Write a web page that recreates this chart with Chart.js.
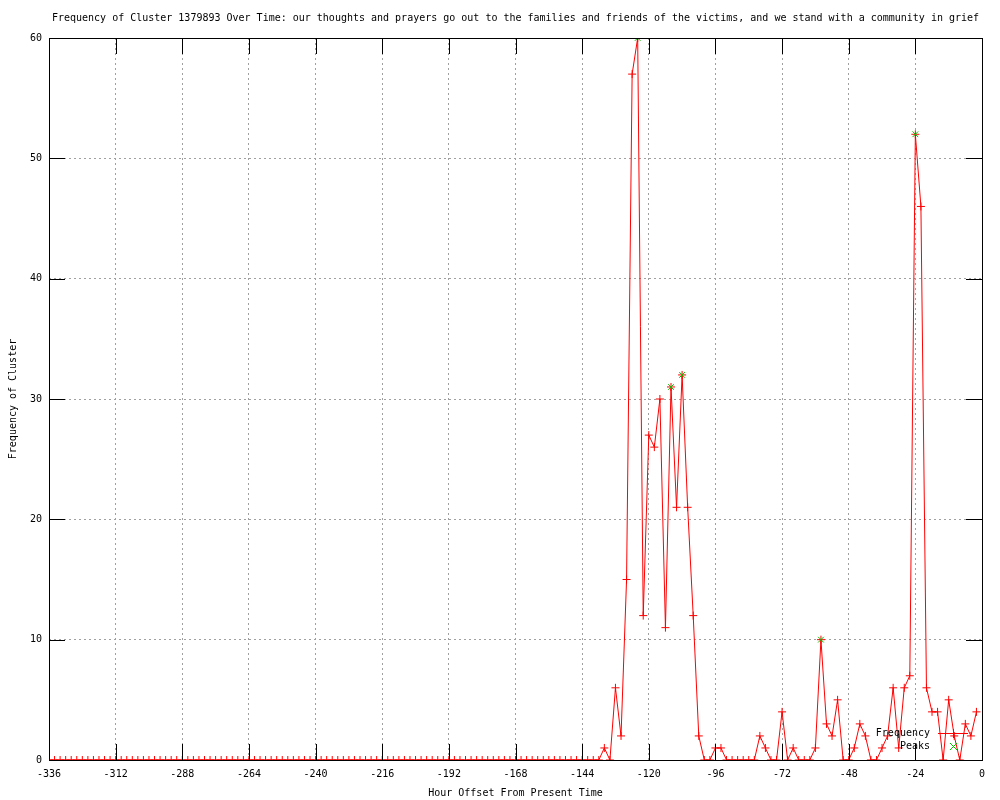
<!DOCTYPE html>
<html>
<head>
<meta charset="utf-8">
<script src="https://cdn.jsdelivr.net/npm/chart.js@4/dist/chart.umd.min.js"></script>
<style>
  html, body { margin: 0; padding: 0; background: #fff; }
  #wrap { width: 1000px; height: 800px; }
</style>
</head>
<body>
<div id="wrap"><canvas id="myChart" width="1000" height="800"></canvas></div>
<script>
var chartTitle = 'Frequency of Cluster 1379893 Over Time: our thoughts and prayers go out to the families and friends of the victims, and we stand with a community in grief';
var xTitle = 'Hour Offset From Present Time';
var yTitle = 'Frequency of Cluster';

// hour offsets, 2 hours apart
var hours = [
    -336, -334, -332, -330, -328, -326, -324, -322, -320, -318, -316, -314,
    -312, -310, -308, -306, -304, -302, -300, -298, -296, -294, -292, -290,
    -288, -286, -284, -282, -280, -278, -276, -274, -272, -270, -268, -266,
    -264, -262, -260, -258, -256, -254, -252, -250, -248, -246, -244, -242,
    -240, -238, -236, -234, -232, -230, -228, -226, -224, -222, -220, -218,
    -216, -214, -212, -210, -208, -206, -204, -202, -200, -198, -196, -194,
    -192, -190, -188, -186, -184, -182, -180, -178, -176, -174, -172, -170,
    -168, -166, -164, -162, -160, -158, -156, -154, -152, -150, -148, -146,
    -144, -142, -140, -138, -136, -134, -132, -130, -128, -126, -124, -122,
    -120, -118, -116, -114, -112, -110, -108, -106, -104, -102, -100, -98,
    -96, -94, -92, -90, -88, -86, -84, -82, -80, -78, -76, -74,
    -72, -70, -68, -66, -64, -62, -60, -58, -56, -54, -52, -50,
    -48, -46, -44, -42, -40, -38, -36, -34, -32, -30, -28, -26,
    -24, -22, -20, -18, -16, -14, -12, -10, -8, -6, -4, -2
];

var counts = [
    0, 0, 0, 0, 0, 0, 0, 0, 0, 0, 0, 0,
    0, 0, 0, 0, 0, 0, 0, 0, 0, 0, 0, 0,
    0, 0, 0, 0, 0, 0, 0, 0, 0, 0, 0, 0,
    0, 0, 0, 0, 0, 0, 0, 0, 0, 0, 0, 0,
    0, 0, 0, 0, 0, 0, 0, 0, 0, 0, 0, 0,
    0, 0, 0, 0, 0, 0, 0, 0, 0, 0, 0, 0,
    0, 0, 0, 0, 0, 0, 0, 0, 0, 0, 0, 0,
    0, 0, 0, 0, 0, 0, 0, 0, 0, 0, 0, 0,
    0, 0, 0, 0, 1, 0, 6, 2, 15, 57, 60, 12,
    27, 26, 30, 11, 31, 21, 32, 21, 12, 2, 0, 0,
    1, 1, 0, 0, 0, 0, 0, 0, 2, 1, 0, 0,
    4, 0, 1, 0, 0, 0, 1, 10, 3, 2, 5, 0,
    0, 1, 3, 2, 0, 0, 1, 2, 6, 1, 6, 7,
    52, 46, 6, 4, 4, 0, 5, 2, 0, 3, 2, 4
];

var peakHours = [-124, -112, -108, -58, -24];
var peakCounts = [60, 31, 32, 10, 52];

var xTicks = [-336, -312, -288, -264, -240, -216, -192, -168, -144, -120, -96, -72, -48, -24, 0];
var yTicks = [0, 10, 20, 30, 40, 50, 60];

var monoFont = '"DejaVu Sans Mono", "Liberation Mono", monospace';

var freqPoints = hours.map(function (h, i) { return { x: h, y: counts[i] }; });
var peakPoints = peakHours.map(function (h, i) { return { x: h, y: peakCounts[i] }; });

// gnuplot style frame, inward ticks, titles and key
var gnuplotLook = {
    id: 'gnuplotLook',
    afterDraw: function (chart) {
        var ctx = chart.ctx;
        var a = chart.chartArea;
        var xs = chart.scales.x, ys = chart.scales.y;
        ctx.save();
        ctx.strokeStyle = '#000';
        ctx.lineWidth = 1;
        ctx.setLineDash([]);
        ctx.strokeRect(Math.round(a.left) + 0.5, Math.round(a.top) + 0.5,
            Math.round(a.right - a.left), Math.round(a.bottom - a.top));

        ctx.beginPath();
        xTicks.forEach(function (v) {
            var px = Math.round(xs.getPixelForValue(v)) + 0.5;
            ctx.moveTo(px, a.bottom); ctx.lineTo(px, a.bottom - 16);
            ctx.moveTo(px, a.top); ctx.lineTo(px, a.top + 16);
        });
        yTicks.forEach(function (v) {
            var py = Math.round(ys.getPixelForValue(v)) + 0.5;
            ctx.moveTo(a.left, py); ctx.lineTo(a.left + 16, py);
            ctx.moveTo(a.right, py); ctx.lineTo(a.right - 16, py);
        });
        ctx.stroke();

        ctx.fillStyle = '#000';
        ctx.font = '10px ' + monoFont;
        ctx.textAlign = 'center';
        ctx.textBaseline = 'middle';
        ctx.fillText(chartTitle, (a.left + a.right) / 2, 18);
        ctx.fillText(xTitle, (a.left + a.right) / 2, 793);

        ctx.save();
        ctx.translate(13, (a.top + a.bottom) / 2);
        ctx.rotate(-Math.PI / 2);
        ctx.fillText(yTitle, 0, 0);
        ctx.restore();

        // key
        var kx = a.right - 52, ky1 = a.bottom - 27, ky2 = a.bottom - 14;
        ctx.textAlign = 'right';
        ctx.fillText('Frequency', kx, ky1);
        ctx.fillText('Peaks', kx, ky2);

        ctx.strokeStyle = '#ff0000';
        ctx.beginPath();
        ctx.moveTo(kx + 8, ky1 + 0.5); ctx.lineTo(kx + 38, ky1 + 0.5);
        ctx.moveTo(kx + 23.5, ky1 - 4); ctx.lineTo(kx + 23.5, ky1 + 5);
        ctx.stroke();

        ctx.strokeStyle = '#00c000';
        ctx.beginPath();
        ctx.moveTo(kx + 20, ky2 - 3); ctx.lineTo(kx + 27, ky2 + 4);
        ctx.moveTo(kx + 27, ky2 - 3); ctx.lineTo(kx + 20, ky2 + 4);
        ctx.stroke();
        ctx.restore();
    }
};

var ctx = document.getElementById('myChart').getContext('2d');
var myChart = new Chart(ctx, {
    type: 'line',
    data: {
        datasets: [
            {
                label: 'Peaks',
                data: peakPoints,
                showLine: false,
                pointStyle: 'crossRot',
                pointRadius: 4,
                pointBorderWidth: 1,
                pointBorderColor: '#00c000',
                borderColor: '#00c000',
                order: 0
            },
            {
                label: 'Frequency',
                data: freqPoints,
                borderColor: '#ff0000',
                borderWidth: 1,
                tension: 0,
                fill: false,
                pointStyle: 'cross',
                pointRadius: 4,
                pointBorderWidth: 1,
                pointBorderColor: '#ff0000',
                order: 1
            }
        ]
    },
    options: {
        responsive: false,
        animation: false,
        devicePixelRatio: 1,
        layout: { padding: { top: 38, right: 18, left: 0, bottom: 0 } },
        plugins: {
            legend: { display: false },
            title: { display: false },
            tooltip: { enabled: false }
        },
        scales: {
            x: {
                type: 'linear',
                min: -336,
                max: 0,
                afterFit: function (scale) { scale.height = 40; },
                afterBuildTicks: function (scale) {
                    scale.ticks = xTicks.map(function (v) { return { value: v }; });
                },
                ticks: {
                    padding: 8,
                    color: '#000',
                    font: { family: monoFont, size: 10 },
                    maxRotation: 0,
                    autoSkip: false
                },
                grid: { color: '#a0a0a0', drawTicks: false },
                border: { display: false, dash: [2, 3] }
            },
            y: {
                min: 0,
                max: 60,
                afterFit: function (scale) { scale.width = 49; },
                ticks: {
                    stepSize: 10,
                    padding: 7,
                    color: '#000',
                    font: { family: monoFont, size: 10 }
                },
                grid: { color: '#a0a0a0', drawTicks: false },
                border: { display: false, dash: [2, 3] }
            }
        }
    },
    plugins: [gnuplotLook]
});
</script>
</body>
</html>
